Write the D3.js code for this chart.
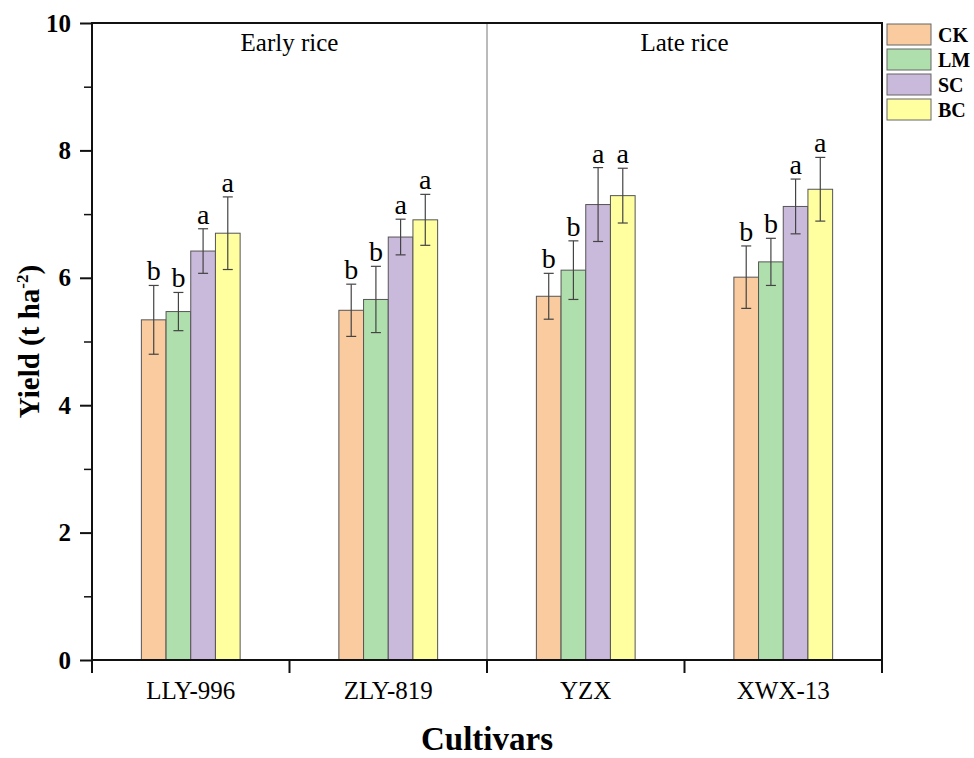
<!DOCTYPE html>
<html>
<head>
<meta charset="utf-8">
<script src="https://cdn.jsdelivr.net/npm/d3@7"></script>
<style>
  body { margin: 0; background: #fff; }
  text { font-family: "Liberation Serif", "Times New Roman", serif; }
</style>
</head>
<body>
<div id="container"></div>
<script>
// data
var cultivars = ["LLY-996", "ZLY-819", "YZX", "XWX-13"];
var treatments = ["CK", "LM", "SC", "BC"];
var colors = ["#f9cb9e", "#b0dfae", "#c9b9db", "#ffff9f"];
var seasons = ["Early rice", "Late rice"];

// yield per cultivar, in treatment order CK, LM, SC, BC
var yieldMean = [
  [5.34, 5.47, 6.42, 6.70],
  [5.49, 5.66, 6.64, 6.91],
  [5.71, 6.12, 7.15, 7.29],
  [6.01, 6.25, 7.12, 7.39]
];
var yieldErr = [
  [0.54, 0.30, 0.35, 0.57],
  [0.41, 0.52, 0.28, 0.40],
  [0.36, 0.46, 0.58, 0.43],
  [0.49, 0.37, 0.43, 0.50]
];
var letters = [
  ["b", "b", "a", "a"],
  ["b", "b", "a", "a"],
  ["b", "b", "a", "a"],
  ["b", "b", "a", "a"]
];
var yTicks = [0, 2, 4, 6, 8, 10];
var yMinorTicks = [1, 3, 5, 7, 9];

var width = 974, height = 758;
// plot edges (note: "top" is reserved on window, so use pTop etc.)
var pLeft = 92, pRight = 882, pTop = 23, pBottom = 660;

var svg = d3.select("#container").append("svg")
  .attr("width", width)
  .attr("height", height);

var x = d3.scaleBand().domain(cultivars).range([pLeft, pRight]).padding(0);
var bw = x.bandwidth();
var x1 = d3.scaleBand().domain(treatments).range([bw / 4, bw * 3 / 4]).padding(0);
var y = d3.scaleLinear().domain([0, 10]).range([pBottom, pTop]);

// season divider
var mid = x(cultivars[2]);
svg.append("line")
  .attr("x1", mid).attr("x2", mid)
  .attr("y1", pTop).attr("y2", pBottom)
  .style("stroke", "#777").style("stroke-width", 1);

// season labels
var seasonX = d3.scaleBand().domain(seasons).range([pLeft, pRight]);
svg.selectAll(".season").data(seasons).enter().append("text")
  .attr("x", function(d) { return seasonX(d) + seasonX.bandwidth() / 2; })
  .attr("y", 51)
  .attr("text-anchor", "middle")
  .style("font-size", "25px")
  .text(function(d) { return d; });

// bars
var rows = [];
cultivars.forEach(function(c, i) {
  treatments.forEach(function(t, j) {
    rows.push({ c: c, t: t, v: yieldMean[i][j], e: yieldErr[i][j], l: letters[i][j], col: colors[j] });
  });
});

var g = svg.append("g");
g.selectAll("rect.bar").data(rows).enter().append("rect")
  .attr("class", "bar")
  .attr("x", function(d) { return x(d.c) + x1(d.t); })
  .attr("y", function(d) { return y(d.v); })
  .attr("width", x1.bandwidth())
  .attr("height", function(d) { return y(0) - y(d.v); })
  .attr("fill", function(d) { return d.col; })
  .style("stroke", "#555")
  .style("stroke-width", 1);

// error bars
var cap = 5;
var eb = g.selectAll("g.err").data(rows).enter().append("g")
  .attr("transform", function(d) { return "translate(" + (x(d.c) + x1(d.t) + x1.bandwidth() / 2) + ",0)"; })
  .style("stroke", "#444").style("stroke-width", 1.2);
eb.append("line")
  .attr("y1", function(d) { return y(d.v + d.e); })
  .attr("y2", function(d) { return y(d.v - d.e); });
eb.append("line")
  .attr("x1", -cap).attr("x2", cap)
  .attr("y1", function(d) { return y(d.v + d.e); })
  .attr("y2", function(d) { return y(d.v + d.e); });
eb.append("line")
  .attr("x1", -cap).attr("x2", cap)
  .attr("y1", function(d) { return y(d.v - d.e); })
  .attr("y2", function(d) { return y(d.v - d.e); });

// significance letters
g.selectAll("text.sig").data(rows).enter().append("text")
  .attr("x", function(d) { return x(d.c) + x1(d.t) + x1.bandwidth() / 2; })
  .attr("y", function(d) { return y(d.v + d.e) - 5; })
  .attr("text-anchor", "middle")
  .style("font-size", "28px")
  .text(function(d) { return d.l; });

// frame
svg.append("rect")
  .attr("x", pLeft).attr("y", pTop)
  .attr("width", pRight - pLeft).attr("height", pBottom - pTop)
  .attr("fill", "none")
  .style("stroke", "#111").style("stroke-width", 2);

// y axis
var yAxis = svg.append("g")
  .attr("transform", "translate(" + pLeft + ",0)")
  .call(d3.axisLeft(y).tickValues(yTicks).tickSize(12).tickPadding(9).tickFormat(d3.format("d")));
yAxis.select(".domain").remove();
yAxis.selectAll("line").style("stroke", "#111").style("stroke-width", 2);
yAxis.selectAll("text")
  .style("font-family", "Liberation Serif, serif")
  .style("font-size", "25px").style("font-weight", "bold").attr("fill", "#000");

var yMinor = svg.append("g")
  .attr("transform", "translate(" + pLeft + ",0)")
  .call(d3.axisLeft(y).tickValues(yMinorTicks).tickSize(8).tickFormat(""));
yMinor.select(".domain").remove();
yMinor.selectAll("line").style("stroke", "#111").style("stroke-width", 1.5);

// x axis: ticks at band edges, labels at centres
var edges = cultivars.map(function(c) { return x(c); }).concat([pRight]);
svg.selectAll("line.xt").data(edges).enter().append("line")
  .attr("x1", function(d) { return d; }).attr("x2", function(d) { return d; })
  .attr("y1", pBottom).attr("y2", pBottom + 13)
  .style("stroke", "#111").style("stroke-width", 2);

svg.selectAll("text.xl").data(cultivars).enter().append("text")
  .attr("x", function(d) { return x(d) + bw / 2; })
  .attr("y", 699)
  .attr("text-anchor", "middle")
  .style("font-size", "25px")
  .text(function(d) { return d; });

// axis titles
svg.append("text")
  .attr("x", (pLeft + pRight) / 2)
  .attr("y", 750)
  .attr("text-anchor", "middle")
  .style("font-size", "33px").style("font-weight", "bold")
  .text("Cultivars");

var yl = svg.append("text")
  .attr("transform", "translate(39," + ((pTop + pBottom) / 2) + ") rotate(-90)")
  .attr("text-anchor", "middle")
  .style("font-size", "29px").style("font-weight", "bold");
yl.append("tspan").text("Yield (t ha");
yl.append("tspan").attr("dy", -11).style("font-size", "17px").text("-2");
yl.append("tspan").attr("dy", 11).text(")");

// legend
var leg = svg.selectAll("g.leg").data(treatments).enter().append("g")
  .attr("transform", function(d, i) { return "translate(887," + (24 + i * 25) + ")"; });
leg.append("rect")
  .attr("width", 44).attr("height", 21)
  .attr("fill", function(d, i) { return colors[i]; })
  .style("stroke", "#666").style("stroke-width", 1);
leg.append("text")
  .attr("x", 51).attr("y", 18)
  .style("font-size", "20px").style("font-weight", "bold")
  .text(function(d) { return d; });
</script>
</body>
</html>
